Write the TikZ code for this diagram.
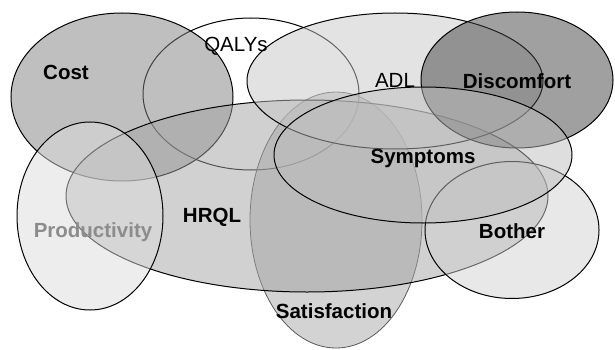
\documentclass[tikz,border=0pt]{standalone}
\usepackage{fontspec}
\setmainfont{Liberation Sans}
\usetikzlibrary{shapes.geometric}
\definecolor{satfill}{gray}{0.66}
\definecolor{costfill}{gray}{0.50}
\definecolor{hrqlfill}{gray}{0.64}
\definecolor{prodfill}{gray}{0.86}
\definecolor{adlfill}{gray}{0.78}
\definecolor{discfill}{gray}{0.26}
\definecolor{botherfill}{gray}{0.82}
\definecolor{sympfill}{gray}{0.74}
\begin{document}
\begin{tikzpicture}[
    x=1pt, y=-1pt,
    set/.style={ellipse, inner sep=0pt, draw=black, line width=1pt, fill opacity=.5},
    lbl/.style={anchor=base, font=\fontsize{20.5}{24}\selectfont\bfseries}
  ]
  \useasboundingbox (0,0) rectangle (615,350);

  % sets, back to front
  \node[set, fill=white, fill opacity=1, minimum width=216pt, minimum height=152pt] (qalys) at (251,94) {};
  \node[set, fill=satfill, draw=black!65, line width=.8pt, minimum width=172pt, minimum height=256pt] (sat) at (336,220) {};
  \node[set, fill=costfill, minimum width=222pt, minimum height=168pt] (cost) at (122,97) {};
  \node[set, fill=hrqlfill, minimum width=482pt, minimum height=192pt] (hrql) at (307,196) {};
  \node[set, fill=prodfill, minimum width=146pt, minimum height=188pt] (prod) at (90,216) {};
  \node[set, fill=adlfill, minimum width=296pt, minimum height=136pt] (adl) at (395,81) {};
  \node[set, fill=discfill, minimum width=192pt, minimum height=136pt] (disc) at (517,80) {};
  \node[set, fill=botherfill, minimum width=174pt, minimum height=137pt] (bother) at (512,230) {};
  \node[set, fill=sympfill, minimum width=298pt, minimum height=136pt] (symp) at (423,155) {};

  % labels
  \node[lbl] (costlbl) at (66,80) {Cost};
  \node[lbl, font=\fontsize{20.5}{24}\selectfont] (qalyslbl) at (236,52) {QALYs};
  \node[lbl, font=\fontsize{20.5}{24}\selectfont] (adllbl) at (395,88) {ADL};
  \node[lbl] (disclbl) at (517,89) {Discomfort};
  \node[lbl] (symplbl) at (423,163) {Symptoms};
  \node[lbl] (hrqllbl) at (212,222) {HRQL};
  \node[lbl, text=black!45] (prodlbl) at (93,237) {Productivity};
  \node[lbl] (satlbl) at (334,318) {Satisfaction};
  \node[lbl] (botherlbl) at (512,238) {Bother};
\end{tikzpicture}
\end{document}
